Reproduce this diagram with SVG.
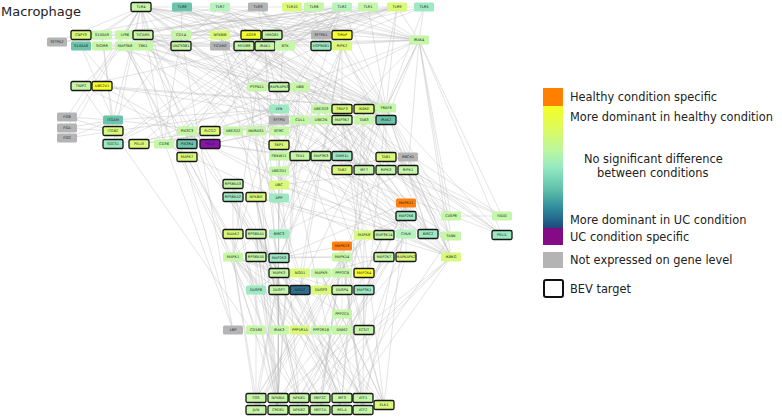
<svg xmlns="http://www.w3.org/2000/svg" width="782" height="417" viewBox="0 0 782 417">
<style>
.edges path{fill:none;stroke:#b9b9b9;stroke-width:0.45;opacity:0.85}
.nd rect{stroke:none}
.b rect{stroke:#151515;stroke-width:1.3}
.nd text{font-family:"DejaVu Sans",sans-serif;font-size:3.6px;text-anchor:middle;fill:#1e1e1e}
.yg{fill:#d9f97a}.lg{fill:#c6f6a8}.pg{fill:#b8f2bc}.mt{fill:#9ee8c2}.tl{fill:#6cc4ac}.dt{fill:#2c6f8c}.gy{fill:#b4b4b4}.ye{fill:#f8ff2e}.or{fill:#ff7f10}.pu{fill:#8b14a8}
.lt{font-family:"DejaVu Sans",sans-serif;font-size:11.4px;fill:#222}
</style>
<defs>
<linearGradient id="grad" x1="0" y1="0" x2="0" y2="1">
<stop offset="0" stop-color="#f4ff22"/>
<stop offset="0.18" stop-color="#ddfb5c"/>
<stop offset="0.38" stop-color="#b8f5a4"/>
<stop offset="0.5" stop-color="#95eac2"/>
<stop offset="0.68" stop-color="#5fc2aa"/>
<stop offset="0.84" stop-color="#2f8a9c"/>
<stop offset="1" stop-color="#1d4a7e"/>
</linearGradient>
</defs>
<rect width="782" height="417" fill="#ffffff"/>
<text x="1" y="16" font-family="DejaVu Sans, sans-serif" font-size="13" fill="#222">Macrophage</text>
<g class="edges"><path d="M141 7L181 35M141 7L125 35M141 7L143 35M141 7L220 46M141 7L244 46M141 7L342 35M141 7L81 46M141 7L102 35M141 7L272 35M141 7L279 109M141 7L283 46M141 7L419 40M141 7L233 330M141 7L256 330M141 7L279 120M141 7L67 117M141 7L67 128M141 7L279 198M141 7L164 144M141 7L113 144M141 7L113 120M141 7L386 108M182 7L244 46M182 7L181 46M182 7L419 40M182 7L386 108M182 7L364 170M182 7L265 46M182 7L321 46M220 7L244 46M220 7L181 46M220 7L419 40M220 7L265 46M220 7L386 108M220 7L364 170M220 7L321 46M220 7L81 35M220 7L283 46M258 7L143 35M258 7L181 46M258 7L143 46M258 7L342 109M258 7L408 170M258 7L342 398M258 7L386 108M258 7L364 109M292 7L244 46M292 7L342 35M292 7L386 108M292 7L419 40M314 7L342 35M314 7L244 46M314 7L164 144M314 7L321 46M314 7L181 35M314 7L419 40M314 7L283 46M342 7L244 46M342 7L181 35M342 7L125 35M342 7L272 35M342 7L419 40M342 7L321 35M342 7L283 46M342 7L164 144M342 7L279 120M342 7L279 198M342 7L386 108M342 7L187 131M342 7L57 42M342 7L279 109M342 7L265 46M368 7L342 35M368 7L244 46M368 7L419 40M368 7L386 108M368 7L181 35M368 7L283 46M397 7L244 46M397 7L181 46M397 7L272 35M397 7L419 40M397 7L364 170M397 7L386 108M397 7L283 46M397 7L81 35M397 7L321 46M397 7L265 46M397 7L251 35M424 7L244 46M424 7L419 40M424 7L321 46M424 7L386 108M141 7L424 7M419 40L265 46M419 40L386 120M419 40L386 108M419 40L279 330M419 40L342 35M419 40L502 235M419 40L502 216M419 40L451 216M419 40L210 144M419 40L139 144M419 40L342 120M419 40L451 257M419 40L408 170M419 40L321 46M419 40L451 236M244 46L386 120M244 46L386 108M244 46L342 35M244 46L364 170M244 46L502 235M244 46L502 216M244 46L279 330M244 46L113 144M244 46L451 216M244 46L102 46M265 46L386 108M265 46L502 235M265 46L210 144M265 46L139 144M265 46L364 170M265 46L81 86M265 46L279 330M265 46L451 257M265 46L113 144M265 46L279 185M265 46L386 120M265 46L342 120M265 46L342 109M342 35L386 108M342 35L113 144M143 35L342 109M143 35L408 170M143 35L220 46M143 35L386 108M143 35L342 398M143 35L364 109M143 35L386 170M143 35L364 170M220 46L386 108M220 46L364 170M143 46L364 109M143 46L342 109M143 46L342 398M143 46L364 170M143 46L451 236M143 46L451 257M181 35L233 330M181 35L279 120M181 35L57 42M181 35L113 120M181 35L164 144M181 35L279 109M125 35L233 330M81 46L251 35M81 46L113 120M81 46L164 144M102 35L251 35M102 35L113 120M102 35L113 131M102 46L386 108M102 46L419 40M125 46L299 398M125 46L233 257M125 46L279 273M125 46L81 86M125 46L406 234M181 46L321 46M321 35L181 35M321 35L141 7M57 42L141 7M220 35L342 410M220 35L299 398M220 35L406 234M220 35L451 257M220 35L256 131M220 35L279 131M342 46L300 273M342 46L300 290M342 46L342 120M342 46L451 257M342 46L386 108M342 46L428 234M342 46L279 234M342 46L279 185M283 46L279 109M283 46L210 131M81 86L386 108M81 86L299 398M81 86L451 257M102 86L386 108M102 86L321 120M102 86L279 185M67 117L113 120M67 128L113 120M67 138L113 120M67 117L113 131M67 128L113 131M67 138L113 131M67 138L141 7M113 120L279 109M113 120L210 131M113 131L279 109M113 144L386 108M139 144L386 108M139 144L321 120M164 144L279 109M164 144L279 198M187 144L244 46M210 144L386 108M210 144L321 120M210 144L408 170M210 144L386 170M210 131L279 109M187 157L320 398M187 157L320 410M233 131L386 108M233 131L279 185M233 131L502 235M233 131L428 234M233 131L300 87M256 131L342 410M256 131L278 398M257 87L233 257M257 87L279 273M279 87L342 257M279 87L406 203M279 87L233 257M300 87L386 108M300 87L279 185M300 87L321 120M300 87L279 131M300 87L408 170M300 87L278 398M300 120L279 145M300 120L279 185M300 120L278 398M300 120L279 156M279 131L278 398M279 156L278 398M279 156L299 398M300 156L342 120M321 156L406 234M321 156L406 216M321 156L364 273M321 156L384 257M321 156L451 257M321 156L279 258M342 156L386 108M279 171L386 108M279 171L428 234M279 185L386 108M279 185L451 257M279 185L408 170M279 185L278 398M279 185L342 109M279 185L428 234M279 198L364 235M233 184L233 257M233 184L279 273M233 184L278 410M233 197L278 410M233 197L279 273M256 197L342 410M256 197L299 398M256 197L406 234M256 197L451 257M256 197L279 131M321 109L386 108M321 109L428 234M321 109L279 185M342 109L451 236M342 109L244 46M342 109L384 235M342 109L428 234M342 109L279 234M364 109L342 398M364 109L364 170M364 109L451 236M386 108L342 170M386 108L342 120M386 108L451 257M386 108L502 235M386 108L451 236M386 108L364 330M386 108L386 157M386 108L408 170M386 108L364 170M386 108L428 234M386 108L451 216M342 120L386 157M342 120L342 170M342 120L406 216M342 120L279 258M342 120L364 273M342 120L384 257M342 120L406 234M342 120L451 257M342 120L364 235M364 120L342 170M386 157L342 257M386 157L342 170M408 157L451 257M386 170L502 216M386 170L451 216M386 170L502 235M408 170L502 216M408 170L451 216M408 170L451 257M408 170L428 234M408 170L279 234M408 170L502 235M406 203L279 258M406 203L406 257M406 203L363 410M406 203L384 405M406 203L320 398M406 216L342 257M406 216L342 246M451 216L502 216M256 234L233 257M256 234L279 273M256 234L278 410M256 234L278 398M256 234L256 398M364 235L256 410M364 235L363 410M364 235L384 405M364 235L342 290M384 235L299 410M406 234L278 398M406 234L451 257M406 234L299 410M406 234L342 410M406 234L299 398M342 246L279 258M342 246L363 410M233 257L384 405M233 257L256 398M233 257L256 290M233 257L321 290M233 257L342 290M233 257L279 290M256 257L342 257M256 257L278 410M256 257L363 398M256 257L342 410M256 257L279 273M279 258L342 257M342 257L363 410M342 257L320 398M342 257L320 410M342 257L406 257M342 257L384 405M342 257L363 398M342 257L364 273M384 257L321 273M406 257L278 410M406 257L363 398M451 257L278 398M451 257L342 410M279 273L384 405M279 273L256 398M279 273L256 290M279 273L342 314M321 273L256 410M321 273L363 410M321 273L364 273M321 273L384 405M342 273L321 330M342 273L342 314M364 290L384 257M364 290L364 330M342 314L321 330M299 398L342 410M256 398L256 410M278 398L299 398M256 398L364 235M256 398L342 257M256 410L342 257M256 410L233 257M256 410L279 273M278 398L256 197M299 398L451 257M299 398L384 235M320 398L233 257M320 410L406 203M320 410L342 246M342 398L364 170M342 398L451 236M363 398L233 257M363 398L279 273M363 398L256 234M278 410L233 257M278 410L279 273M278 410L342 257M299 410L451 257M299 410L256 197M342 410L256 234M363 410L233 257M384 405L321 273M384 405L342 246"/></g>
<g id="nodes">
<g id="n-TLR4" class="nd b" transform="translate(141,7)"><rect class="lg" x="-10" y="-4.5" width="20" height="9" rx="1.5"/><text y="1.3">TLR4</text></g>
<g id="n-TLR8" class="nd" transform="translate(182,7)"><rect class="tl" x="-10" y="-4.5" width="20" height="9" rx="1.5"/><text y="1.3">TLR8</text></g>
<g id="n-TLR7" class="nd" transform="translate(220,7)"><rect class="pg" x="-10" y="-4.5" width="20" height="9" rx="1.5"/><text y="1.3">TLR7</text></g>
<g id="n-TLR3" class="nd" transform="translate(258,7)"><rect class="gy" x="-10" y="-4.5" width="20" height="9" rx="1.5"/><text y="1.3">TLR3</text></g>
<g id="n-TLR10" class="nd" transform="translate(292,7)"><rect class="yg" x="-10" y="-4.5" width="20" height="9" rx="1.5"/><text y="1.3">TLR10</text></g>
<g id="n-TLR6" class="nd" transform="translate(314,7)"><rect class="lg" x="-10" y="-4.5" width="20" height="9" rx="1.5"/><text y="1.3">TLR6</text></g>
<g id="n-TLR2" class="nd" transform="translate(342,7)"><rect class="pg" x="-10" y="-4.5" width="20" height="9" rx="1.5"/><text y="1.3">TLR2</text></g>
<g id="n-TLR1" class="nd" transform="translate(368,7)"><rect class="lg" x="-10" y="-4.5" width="20" height="9" rx="1.5"/><text y="1.3">TLR1</text></g>
<g id="n-TLR9" class="nd" transform="translate(397,7)"><rect class="yg" x="-10" y="-4.5" width="20" height="9" rx="1.5"/><text y="1.3">TLR9</text></g>
<g id="n-TLR5" class="nd" transform="translate(424,7)"><rect class="mt" x="-10" y="-4.5" width="20" height="9" rx="1.5"/><text y="1.3">TLR5</text></g>
<g id="n-SFTPA2" class="nd" transform="translate(57,42)"><rect class="gy" x="-10" y="-4.5" width="20" height="9" rx="1.5"/><text y="1.3">SFTPA2</text></g>
<g id="n-CNPY3" class="nd b" transform="translate(81,35)"><rect class="yg" x="-10" y="-4.5" width="20" height="9" rx="1.5"/><text y="1.3">CNPY3</text></g>
<g id="n-S100A9" class="nd" transform="translate(102,35)"><rect class="lg" x="-10" y="-4.5" width="20" height="9" rx="1.5"/><text y="1.3">S100A9</text></g>
<g id="n-LY96" class="nd" transform="translate(125,35)"><rect class="lg" x="-10" y="-4.5" width="20" height="9" rx="1.5"/><text y="1.3">LY96</text></g>
<g id="n-TICAM1" class="nd b" transform="translate(143,35)"><rect class="lg" x="-10" y="-4.5" width="20" height="9" rx="1.5"/><text y="1.3">TICAM1</text></g>
<g id="n-CD14" class="nd" transform="translate(181,35)"><rect class="lg" x="-10" y="-4.5" width="20" height="9" rx="1.5"/><text y="1.3">CD14</text></g>
<g id="n-NFKBIB" class="nd" transform="translate(220,35)"><rect class="yg" x="-10" y="-4.5" width="20" height="9" rx="1.5"/><text y="1.3">NFKBIB</text></g>
<g id="n-AGER" class="nd b" transform="translate(251,35)"><rect class="ye" x="-10" y="-4.5" width="20" height="9" rx="1.5"/><text y="1.3">AGER</text></g>
<g id="n-HMGB1" class="nd b" transform="translate(272,35)"><rect class="lg" x="-10" y="-4.5" width="20" height="9" rx="1.5"/><text y="1.3">HMGB1</text></g>
<g id="n-SFTPA1" class="nd" transform="translate(321,35)"><rect class="gy" x="-10" y="-4.5" width="20" height="9" rx="1.5"/><text y="1.3">SFTPA1</text></g>
<g id="n-TIRAP" class="nd b" transform="translate(342,35)"><rect class="ye" x="-10" y="-4.5" width="20" height="9" rx="1.5"/><text y="1.3">TIRAP</text></g>
<g id="n-IRAK4" class="nd" transform="translate(419,40)"><rect class="lg" x="-10" y="-4.5" width="20" height="9" rx="1.5"/><text y="1.3">IRAK4</text></g>
<g id="n-S100A8" class="nd" transform="translate(81,46)"><rect class="tl" x="-10" y="-4.5" width="20" height="9" rx="1.5"/><text y="1.3">S100A8</text></g>
<g id="n-SIGIRR" class="nd" transform="translate(102,46)"><rect class="lg" x="-10" y="-4.5" width="20" height="9" rx="1.5"/><text y="1.3">SIGIRR</text></g>
<g id="n-MAP3K8" class="nd" transform="translate(125,46)"><rect class="lg" x="-10" y="-4.5" width="20" height="9" rx="1.5"/><text y="1.3">MAP3K8</text></g>
<g id="n-TBK1" class="nd" transform="translate(143,46)"><rect class="lg" x="-10" y="-4.5" width="20" height="9" rx="1.5"/><text y="1.3">TBK1</text></g>
<g id="n-UNC93B1" class="nd b" transform="translate(181,46)"><rect class="lg" x="-10" y="-4.5" width="20" height="9" rx="1.5"/><text y="1.3">UNC93B1</text></g>
<g id="n-TICAM2" class="nd" transform="translate(220,46)"><rect class="gy" x="-10" y="-4.5" width="20" height="9" rx="1.5"/><text y="1.3">TICAM2</text></g>
<g id="n-MYD88" class="nd b" transform="translate(244,46)"><rect class="lg" x="-10" y="-4.5" width="20" height="9" rx="1.5"/><text y="1.3">MYD88</text></g>
<g id="n-IRAK1" class="nd b" transform="translate(265,46)"><rect class="lg" x="-10" y="-4.5" width="20" height="9" rx="1.5"/><text y="1.3">IRAK1</text></g>
<g id="n-BTK" class="nd" transform="translate(285,46)"><rect class="lg" x="-10" y="-4.5" width="20" height="9" rx="1.5"/><text y="1.3">BTK</text></g>
<g id="n-HSP90B1" class="nd b" transform="translate(321,46)"><rect class="mt" x="-10" y="-4.5" width="20" height="9" rx="1.5"/><text y="1.3">HSP90B1</text></g>
<g id="n-RIPK2" class="nd" transform="translate(342,46)"><rect class="yg" x="-10" y="-4.5" width="20" height="9" rx="1.5"/><text y="1.3">RIPK2</text></g>
<g id="n-TNIP2" class="nd b" transform="translate(81,86)"><rect class="lg" x="-10" y="-4.5" width="20" height="9" rx="1.5"/><text y="1.3">TNIP2</text></g>
<g id="n-UBE2V1" class="nd b" transform="translate(102,86)"><rect class="ye" x="-10" y="-4.5" width="20" height="9" rx="1.5"/><text y="1.3">UBE2V1</text></g>
<g id="n-FGB" class="nd" transform="translate(67,117)"><rect class="gy" x="-10" y="-4.5" width="20" height="9" rx="1.5"/><text y="1.3">FGB</text></g>
<g id="n-FGA" class="nd" transform="translate(67,128)"><rect class="gy" x="-10" y="-4.5" width="20" height="9" rx="1.5"/><text y="1.3">FGA</text></g>
<g id="n-FGG" class="nd" transform="translate(67,138)"><rect class="gy" x="-10" y="-4.5" width="20" height="9" rx="1.5"/><text y="1.3">FGG</text></g>
<g id="n-ITGAM" class="nd" transform="translate(113,120)"><rect class="tl" x="-10" y="-4.5" width="20" height="9" rx="1.5"/><text y="1.3">ITGAM</text></g>
<g id="n-ITGB2" class="nd b" transform="translate(113,131)"><rect class="yg" x="-10" y="-4.5" width="20" height="9" rx="1.5"/><text y="1.3">ITGB2</text></g>
<g id="n-SOCS1" class="nd b" transform="translate(113,144)"><rect class="mt" x="-10" y="-4.5" width="20" height="9" rx="1.5"/><text y="1.3">SOCS1</text></g>
<g id="n-PELI3" class="nd b" transform="translate(139,144)"><rect class="yg" x="-10" y="-4.5" width="20" height="9" rx="1.5"/><text y="1.3">PELI3</text></g>
<g id="n-CD36" class="nd" transform="translate(164,144)"><rect class="lg" x="-10" y="-4.5" width="20" height="9" rx="1.5"/><text y="1.3">CD36</text></g>
<g id="n-PIK3R4" class="nd b" transform="translate(187,144)"><rect class="tl" x="-10" y="-4.5" width="20" height="9" rx="1.5"/><text y="1.3">PIK3R4</text></g>
<g id="n-PELI2" class="nd b" transform="translate(210,144)"><rect class="pu" x="-10" y="-4.5" width="20" height="9" rx="1.5"/><text y="1.3">PELI2</text></g>
<g id="n-PIK3C3" class="nd" transform="translate(187,131)"><rect class="lg" x="-10" y="-4.5" width="20" height="9" rx="1.5"/><text y="1.3">PIK3C3</text></g>
<g id="n-PLCG2" class="nd b" transform="translate(210,131)"><rect class="yg" x="-10" y="-4.5" width="20" height="9" rx="1.5"/><text y="1.3">PLCG2</text></g>
<g id="n-MAPK7" class="nd b" transform="translate(187,157)"><rect class="yg" x="-10" y="-4.5" width="20" height="9" rx="1.5"/><text y="1.3">MAPK7</text></g>
<g id="n-UBE2D2" class="nd" transform="translate(233,131)"><rect class="lg" x="-10" y="-4.5" width="20" height="9" rx="1.5"/><text y="1.3">UBE2D2</text></g>
<g id="n-NKIRAS1" class="nd" transform="translate(256,131)"><rect class="lg" x="-10" y="-4.5" width="20" height="9" rx="1.5"/><text y="1.3">NKIRAS1</text></g>
<g id="n-PTPN11" class="nd" transform="translate(257,87)"><rect class="lg" x="-10" y="-4.5" width="20" height="9" rx="1.5"/><text y="1.3">PTPN11</text></g>
<g id="n-MAPKAPK3" class="nd b" transform="translate(279,87)"><rect class="lg" x="-10" y="-4.5" width="20" height="9" rx="1.5"/><text y="1.3">MAPKAPK3</text></g>
<g id="n-UBB" class="nd" transform="translate(300,87)"><rect class="lg" x="-10" y="-4.5" width="20" height="9" rx="1.5"/><text y="1.3">UBB</text></g>
<g id="n-LYN" class="nd" transform="translate(279,109)"><rect class="mt" x="-10" y="-4.5" width="20" height="9" rx="1.5"/><text y="1.3">LYN</text></g>
<g id="n-SFTPD" class="nd" transform="translate(279,120)"><rect class="gy" x="-10" y="-4.5" width="20" height="9" rx="1.5"/><text y="1.3">SFTPD</text></g>
<g id="n-CUL1" class="nd" transform="translate(300,120)"><rect class="lg" x="-10" y="-4.5" width="20" height="9" rx="1.5"/><text y="1.3">CUL1</text></g>
<g id="n-BTRC" class="nd" transform="translate(279,131)"><rect class="lg" x="-10" y="-4.5" width="20" height="9" rx="1.5"/><text y="1.3">BTRC</text></g>
<g id="n-SKP1" class="nd b" transform="translate(279,145)"><rect class="yg" x="-10" y="-4.5" width="20" height="9" rx="1.5"/><text y="1.3">SKP1</text></g>
<g id="n-FBXW11" class="nd" transform="translate(279,156)"><rect class="lg" x="-10" y="-4.5" width="20" height="9" rx="1.5"/><text y="1.3">FBXW11</text></g>
<g id="n-TEA1" class="nd b" transform="translate(300,156)"><rect class="lg" x="-10" y="-4.5" width="20" height="9" rx="1.5"/><text y="1.3">TEA1</text></g>
<g id="n-MAP3K3" class="nd b" transform="translate(321,156)"><rect class="lg" x="-10" y="-4.5" width="20" height="9" rx="1.5"/><text y="1.3">MAP3K3</text></g>
<g id="n-DNM1L" class="nd b" transform="translate(342,156)"><rect class="mt" x="-10" y="-4.5" width="20" height="9" rx="1.5"/><text y="1.3">DNM1L</text></g>
<g id="n-UBE2D1" class="nd" transform="translate(279,171)"><rect class="lg" x="-10" y="-4.5" width="20" height="9" rx="1.5"/><text y="1.3">UBE2D1</text></g>
<g id="n-UBC" class="nd" transform="translate(279,185)"><rect class="yg" x="-10" y="-4.5" width="20" height="9" rx="1.5"/><text y="1.3">UBC</text></g>
<g id="n-APP" class="nd" transform="translate(279,198)"><rect class="mt" x="-10" y="-4.5" width="20" height="9" rx="1.5"/><text y="1.3">APP</text></g>
<g id="n-RPS6KA3" class="nd b" transform="translate(233,184)"><rect class="lg" x="-10" y="-4.5" width="20" height="9" rx="1.5"/><text y="1.3">RPS6KA3</text></g>
<g id="n-RPS6KA2" class="nd b" transform="translate(233,197)"><rect class="mt" x="-10" y="-4.5" width="20" height="9" rx="1.5"/><text y="1.3">RPS6KA2</text></g>
<g id="n-NFKBIE" class="nd b" transform="translate(256,197)"><rect class="yg" x="-10" y="-4.5" width="20" height="9" rx="1.5"/><text y="1.3">NFKBIE</text></g>
<g id="n-UBE2D3" class="nd" transform="translate(321,109)"><rect class="lg" x="-10" y="-4.5" width="20" height="9" rx="1.5"/><text y="1.3">UBE2D3</text></g>
<g id="n-TRAF3" class="nd b" transform="translate(342,109)"><rect class="yg" x="-10" y="-4.5" width="20" height="9" rx="1.5"/><text y="1.3">TRAF3</text></g>
<g id="n-IKBKE" class="nd b" transform="translate(364,109)"><rect class="yg" x="-10" y="-4.5" width="20" height="9" rx="1.5"/><text y="1.3">IKBKE</text></g>
<g id="n-TRAF6" class="nd" transform="translate(386,108)"><rect class="lg" x="-10" y="-4.5" width="20" height="9" rx="1.5"/><text y="1.3">TRAF6</text></g>
<g id="n-UBE2N" class="nd" transform="translate(321,120)"><rect class="lg" x="-10" y="-4.5" width="20" height="9" rx="1.5"/><text y="1.3">UBE2N</text></g>
<g id="n-MAP3K7" class="nd b" transform="translate(342,120)"><rect class="lg" x="-10" y="-4.5" width="20" height="9" rx="1.5"/><text y="1.3">MAP3K7</text></g>
<g id="n-TAB3" class="nd" transform="translate(364,120)"><rect class="lg" x="-10" y="-4.5" width="20" height="9" rx="1.5"/><text y="1.3">TAB3</text></g>
<g id="n-IRAK2" class="nd b" transform="translate(386,120)"><rect class="tl" x="-10" y="-4.5" width="20" height="9" rx="1.5"/><text y="1.3">IRAK2</text></g>
<g id="n-TAB1" class="nd b" transform="translate(386,157)"><rect class="yg" x="-10" y="-4.5" width="20" height="9" rx="1.5"/><text y="1.3">TAB1</text></g>
<g id="n-RBCK1" class="nd" transform="translate(408,157)"><rect class="gy" x="-10" y="-4.5" width="20" height="9" rx="1.5"/><text y="1.3">RBCK1</text></g>
<g id="n-TAB2" class="nd b" transform="translate(342,170)"><rect class="yg" x="-10" y="-4.5" width="20" height="9" rx="1.5"/><text y="1.3">TAB2</text></g>
<g id="n-IRF7" class="nd b" transform="translate(364,170)"><rect class="lg" x="-10" y="-4.5" width="20" height="9" rx="1.5"/><text y="1.3">IRF7</text></g>
<g id="n-RIPK3" class="nd b" transform="translate(386,170)"><rect class="lg" x="-10" y="-4.5" width="20" height="9" rx="1.5"/><text y="1.3">RIPK3</text></g>
<g id="n-RIPK1" class="nd b" transform="translate(408,170)"><rect class="lg" x="-10" y="-4.5" width="20" height="9" rx="1.5"/><text y="1.3">RIPK1</text></g>
<g id="n-MAPK11" class="nd" transform="translate(406,203)"><rect class="or" x="-10" y="-4.5" width="20" height="9" rx="1.5"/><text y="1.3">MAPK11</text></g>
<g id="n-MAP2K6" class="nd b" transform="translate(406,216)"><rect class="mt" x="-10" y="-4.5" width="20" height="9" rx="1.5"/><text y="1.3">MAP2K6</text></g>
<g id="n-CASP8" class="nd" transform="translate(451,216)"><rect class="lg" x="-10" y="-4.5" width="20" height="9" rx="1.5"/><text y="1.3">CASP8</text></g>
<g id="n-FADD" class="nd" transform="translate(502,216)"><rect class="lg" x="-10" y="-4.5" width="20" height="9" rx="1.5"/><text y="1.3">FADD</text></g>
<g id="n-NUAK2" class="nd b" transform="translate(233,234)"><rect class="yg" x="-10" y="-4.5" width="20" height="9" rx="1.5"/><text y="1.3">NUAK2</text></g>
<g id="n-RPS6KA1" class="nd b" transform="translate(256,234)"><rect class="lg" x="-10" y="-4.5" width="20" height="9" rx="1.5"/><text y="1.3">RPS6KA1</text></g>
<g id="n-BIRC3" class="nd" transform="translate(279,234)"><rect class="mt" x="-10" y="-4.5" width="20" height="9" rx="1.5"/><text y="1.3">BIRC3</text></g>
<g id="n-MAPK8" class="nd" transform="translate(364,235)"><rect class="yg" x="-10" y="-4.5" width="20" height="9" rx="1.5"/><text y="1.3">MAPK8</text></g>
<g id="n-MAP3K14" class="nd b" transform="translate(384,235)"><rect class="lg" x="-10" y="-4.5" width="20" height="9" rx="1.5"/><text y="1.3">MAP3K14</text></g>
<g id="n-CHUK" class="nd" transform="translate(406,234)"><rect class="pg" x="-10" y="-4.5" width="20" height="9" rx="1.5"/><text y="1.3">CHUK</text></g>
<g id="n-BIRC2" class="nd b" transform="translate(428,234)"><rect class="mt" x="-10" y="-4.5" width="20" height="9" rx="1.5"/><text y="1.3">BIRC2</text></g>
<g id="n-TANK" class="nd" transform="translate(451,236)"><rect class="lg" x="-10" y="-4.5" width="20" height="9" rx="1.5"/><text y="1.3">TANK</text></g>
<g id="n-PELI1" class="nd b" transform="translate(502,235)"><rect class="mt" x="-10" y="-4.5" width="20" height="9" rx="1.5"/><text y="1.3">PELI1</text></g>
<g id="n-MAPK13" class="nd" transform="translate(342,246)"><rect class="or" x="-10" y="-4.5" width="20" height="9" rx="1.5"/><text y="1.3">MAPK13</text></g>
<g id="n-MAPK1" class="nd" transform="translate(233,257)"><rect class="lg" x="-10" y="-4.5" width="20" height="9" rx="1.5"/><text y="1.3">MAPK1</text></g>
<g id="n-RPS6KA5" class="nd b" transform="translate(256,257)"><rect class="lg" x="-10" y="-4.5" width="20" height="9" rx="1.5"/><text y="1.3">RPS6KA5</text></g>
<g id="n-MAP2K3" class="nd b" transform="translate(279,258)"><rect class="mt" x="-10" y="-4.5" width="20" height="9" rx="1.5"/><text y="1.3">MAP2K3</text></g>
<g id="n-MAPK14" class="nd" transform="translate(342,257)"><rect class="lg" x="-10" y="-4.5" width="20" height="9" rx="1.5"/><text y="1.3">MAPK14</text></g>
<g id="n-MAP2K7" class="nd b" transform="translate(384,257)"><rect class="lg" x="-10" y="-4.5" width="20" height="9" rx="1.5"/><text y="1.3">MAP2K7</text></g>
<g id="n-MAPKAPK2" class="nd b" transform="translate(406,257)"><rect class="yg" x="-10" y="-4.5" width="20" height="9" rx="1.5"/><text y="1.3">MAPKAPK2</text></g>
<g id="n-IKBKG" class="nd" transform="translate(451,257)"><rect class="yg" x="-10" y="-4.5" width="20" height="9" rx="1.5"/><text y="1.3">IKBKG</text></g>
<g id="n-MAPK3" class="nd b" transform="translate(279,273)"><rect class="lg" x="-10" y="-4.5" width="20" height="9" rx="1.5"/><text y="1.3">MAPK3</text></g>
<g id="n-NOD1" class="nd" transform="translate(300,273)"><rect class="yg" x="-10" y="-4.5" width="20" height="9" rx="1.5"/><text y="1.3">NOD1</text></g>
<g id="n-MAPK9" class="nd" transform="translate(321,273)"><rect class="lg" x="-10" y="-4.5" width="20" height="9" rx="1.5"/><text y="1.3">MAPK9</text></g>
<g id="n-PPP2CB" class="nd" transform="translate(342,273)"><rect class="lg" x="-10" y="-4.5" width="20" height="9" rx="1.5"/><text y="1.3">PPP2CB</text></g>
<g id="n-MAP2K4" class="nd b" transform="translate(364,273)"><rect class="ye" x="-10" y="-4.5" width="20" height="9" rx="1.5"/><text y="1.3">MAP2K4</text></g>
<g id="n-DUSP6" class="nd" transform="translate(256,290)"><rect class="mt" x="-10" y="-4.5" width="20" height="9" rx="1.5"/><text y="1.3">DUSP6</text></g>
<g id="n-DUSP7" class="nd b" transform="translate(279,290)"><rect class="lg" x="-10" y="-4.5" width="20" height="9" rx="1.5"/><text y="1.3">DUSP7</text></g>
<g id="n-NOD2" class="nd b" transform="translate(300,290)"><rect class="dt" x="-10" y="-4.5" width="20" height="9" rx="1.5"/><text y="1.3">NOD2</text></g>
<g id="n-DUSP3" class="nd" transform="translate(321,290)"><rect class="yg" x="-10" y="-4.5" width="20" height="9" rx="1.5"/><text y="1.3">DUSP3</text></g>
<g id="n-DUSP4" class="nd b" transform="translate(342,290)"><rect class="lg" x="-10" y="-4.5" width="20" height="9" rx="1.5"/><text y="1.3">DUSP4</text></g>
<g id="n-MAP3K1" class="nd b" transform="translate(364,290)"><rect class="mt" x="-10" y="-4.5" width="20" height="9" rx="1.5"/><text y="1.3">MAP3K1</text></g>
<g id="n-PPP2CA" class="nd" transform="translate(342,314)"><rect class="lg" x="-10" y="-4.5" width="20" height="9" rx="1.5"/><text y="1.3">PPP2CA</text></g>
<g id="n-LBP" class="nd" transform="translate(233,330)"><rect class="gy" x="-10" y="-4.5" width="20" height="9" rx="1.5"/><text y="1.3">LBP</text></g>
<g id="n-CD180" class="nd" transform="translate(256,330)"><rect class="lg" x="-10" y="-4.5" width="20" height="9" rx="1.5"/><text y="1.3">CD180</text></g>
<g id="n-IRAK3" class="nd" transform="translate(279,330)"><rect class="lg" x="-10" y="-4.5" width="20" height="9" rx="1.5"/><text y="1.3">IRAK3</text></g>
<g id="n-PPP1R1A" class="nd" transform="translate(300,330)"><rect class="yg" x="-10" y="-4.5" width="20" height="9" rx="1.5"/><text y="1.3">PPP1R1A</text></g>
<g id="n-PPP2R1B" class="nd" transform="translate(321,330)"><rect class="lg" x="-10" y="-4.5" width="20" height="9" rx="1.5"/><text y="1.3">PPP2R1B</text></g>
<g id="n-DNM2" class="nd" transform="translate(342,330)"><rect class="lg" x="-10" y="-4.5" width="20" height="9" rx="1.5"/><text y="1.3">DNM2</text></g>
<g id="n-ECSIT" class="nd b" transform="translate(364,330)"><rect class="lg" x="-10" y="-4.5" width="20" height="9" rx="1.5"/><text y="1.3">ECSIT</text></g>
<g id="n-FOS" class="nd b" transform="translate(256,398)"><rect class="lg" x="-10" y="-4.5" width="20" height="9" rx="1.5"/><text y="1.3">FOS</text></g>
<g id="n-NFKBIA" class="nd b" transform="translate(278,398)"><rect class="lg" x="-10" y="-4.5" width="20" height="9" rx="1.5"/><text y="1.3">NFKBIA</text></g>
<g id="n-NFKB1" class="nd b" transform="translate(299,398)"><rect class="lg" x="-10" y="-4.5" width="20" height="9" rx="1.5"/><text y="1.3">NFKB1</text></g>
<g id="n-MEF2C" class="nd b" transform="translate(320,398)"><rect class="lg" x="-10" y="-4.5" width="20" height="9" rx="1.5"/><text y="1.3">MEF2C</text></g>
<g id="n-IRF3" class="nd b" transform="translate(342,398)"><rect class="lg" x="-10" y="-4.5" width="20" height="9" rx="1.5"/><text y="1.3">IRF3</text></g>
<g id="n-ATF1" class="nd b" transform="translate(363,398)"><rect class="lg" x="-10" y="-4.5" width="20" height="9" rx="1.5"/><text y="1.3">ATF1</text></g>
<g id="n-JUN" class="nd b" transform="translate(256,410)"><rect class="lg" x="-10" y="-4.5" width="20" height="9" rx="1.5"/><text y="1.3">JUN</text></g>
<g id="n-CREB1" class="nd b" transform="translate(278,410)"><rect class="lg" x="-10" y="-4.5" width="20" height="9" rx="1.5"/><text y="1.3">CREB1</text></g>
<g id="n-NFKB2" class="nd b" transform="translate(299,410)"><rect class="lg" x="-10" y="-4.5" width="20" height="9" rx="1.5"/><text y="1.3">NFKB2</text></g>
<g id="n-MEF2A" class="nd b" transform="translate(320,410)"><rect class="lg" x="-10" y="-4.5" width="20" height="9" rx="1.5"/><text y="1.3">MEF2A</text></g>
<g id="n-RELA" class="nd b" transform="translate(342,410)"><rect class="lg" x="-10" y="-4.5" width="20" height="9" rx="1.5"/><text y="1.3">RELA</text></g>
<g id="n-ATF2" class="nd b" transform="translate(363,410)"><rect class="lg" x="-10" y="-4.5" width="20" height="9" rx="1.5"/><text y="1.3">ATF2</text></g>
<g id="n-ELK1" class="nd b" transform="translate(384,405)"><rect class="yg" x="-10" y="-4.5" width="20" height="9" rx="1.5"/><text y="1.3">ELK1</text></g>
</g>
<g id="legend">
<rect x="543" y="88" width="20" height="18" fill="#ff7f00"/>
<rect x="543" y="106" width="20" height="122" fill="url(#grad)"/>
<rect x="543" y="228" width="20" height="17" fill="#840a86"/>
<rect x="543" y="252" width="20" height="16" fill="#b4b4b4"/>
<rect x="544" y="280" width="19" height="17" rx="2" fill="#ffffff" stroke="#111" stroke-width="2"/>
<text class="lt" x="570" y="101">Healthy condition specific</text>
<text class="lt" x="570" y="121">More dominant in healthy condition</text>
<text class="lt" x="584" y="163">No significant difference</text>
<text class="lt" x="597" y="177">between conditions</text>
<text class="lt" x="570" y="224">More dominant in UC condition</text>
<text class="lt" x="570" y="241">UC condition specific</text>
<text class="lt" x="570" y="264">Not expressed on gene level</text>
<text class="lt" x="570" y="293">BEV target</text>
</g>
</svg>
